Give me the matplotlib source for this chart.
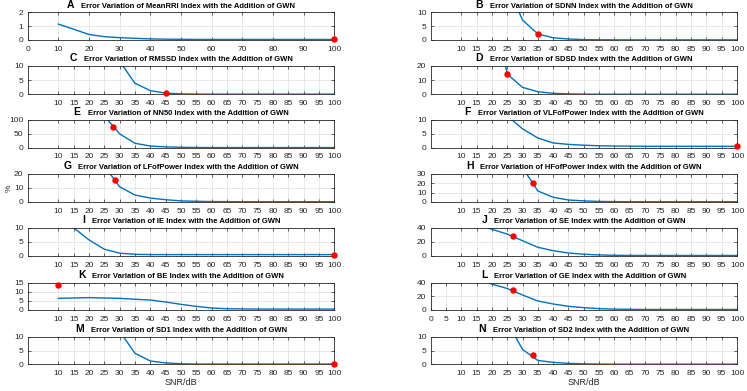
import matplotlib
matplotlib.use("Agg")
import matplotlib.pyplot as plt
from matplotlib.offsetbox import TextArea, HPacker, AnchoredOffsetbox

plt.rcParams['font.family'] = ['Liberation Sans', 'DejaVu Sans']

snr = [10, 15, 20, 25, 30, 35, 40, 45, 50, 55, 60, 65, 70, 75, 80, 85, 90, 95, 100]

letters = ["A", "B", "C", "D", "E", "F", "G", "H", "I", "J", "K", "L", "M", "N"]
names = ["MeanRRI", "SDNN", "RMSSD", "SDSD", "NN50", "VLFofPower", "LFofPower",
         "HFofPower", "IE", "SE", "BE", "GE", "SD1", "SD2"]

err_A = [1.15, 0.78, 0.40, 0.24, 0.17, 0.12, 0.08, 0.06, 0.05, 0.04, 0.04, 0.04, 0.04, 0.04, 0.04, 0.04, 0.04, 0.04, 0.04]
err_B = [60, 45, 32, 20, 7.2, 2.2, 0.8, 0.35, 0.15, 0.08, 0.05, 0.05, 0.05, 0.05, 0.05, 0.05, 0.05, 0.05, 0.05]
err_C = [80, 60, 40, 25, 11.7, 3.9, 1.3, 0.4, 0.15, 0.08, 0.05, 0.05, 0.05, 0.05, 0.05, 0.05, 0.05, 0.05, 0.05]
err_D = [160, 120, 70, 14.3, 4.9, 1.8, 0.7, 0.3, 0.12, 0.06, 0.05, 0.05, 0.05, 0.05, 0.05, 0.05, 0.05, 0.05, 0.05]
err_E = [250, 200, 160, 115, 50, 16, 6, 3, 1.5, 0.8, 0.5, 0.5, 0.5, 0.5, 0.5, 0.5, 0.5, 0.5, 0.5]
err_F = [30, 25, 18, 11.5, 6.8, 3.5, 1.7, 1.2, 0.9, 0.7, 0.6, 0.55, 0.5, 0.5, 0.5, 0.5, 0.5, 0.5, 0.5]
err_G = [60, 45, 35, 25.6, 10.8, 4.9, 2.8, 1.6, 0.8, 0.5, 0.3, 0.25, 0.2, 0.2, 0.2, 0.2, 0.2, 0.2, 0.2]
err_H = [100, 80, 60, 45, 36.4, 11.7, 5.0, 2.1, 1.2, 0.6, 0.4, 0.3, 0.3, 0.3, 0.3, 0.3, 0.3, 0.3, 0.3]
err_I = [14, 10, 5.7, 2.4, 1.0, 0.6, 0.5, 0.5, 0.5, 0.5, 0.5, 0.5, 0.5, 0.5, 0.5, 0.5, 0.5, 0.5, 0.5]
err_J = [50, 45, 37.7, 31, 21.6, 12.3, 7.5, 4.2, 2.5, 1.5, 1.0, 0.8, 0.7, 0.7, 0.7, 0.7, 0.7, 0.7, 0.7]
err_K = [6.4, 6.6, 6.8, 6.6, 6.4, 5.9, 5.5, 4.4, 3.1, 2.0, 1.1, 0.7, 0.6, 0.5, 0.5, 0.5, 0.5, 0.5, 0.5]
err_L = [50, 45, 38, 31.5, 22, 13.2, 8.8, 5.4, 3.4, 2.0, 1.3, 1.0, 0.8, 0.8, 0.8, 0.8, 0.8, 0.8, 0.8]
err_M = [80, 60, 40, 25, 12, 4.0, 1.2, 0.5, 0.2, 0.1, 0.1, 0.1, 0.1, 0.1, 0.1, 0.1, 0.1, 0.1, 0.1]
err_N = [40, 30, 22, 15.4, 5.4, 1.4, 0.7, 0.35, 0.15, 0.08, 0.05, 0.05, 0.05, 0.05, 0.05, 0.05, 0.05, 0.05, 0.05]
series = [err_A, err_B, err_C, err_D, err_E, err_F, err_G, err_H, err_I, err_J, err_K, err_L, err_M, err_N]

marker_x = [100, 35, 45, 25, 28, 100, 28.5, 33.3, 100, 26.9, 10, 26.9, 100, 33.3]
marker_y = [0.04, 2.2, 0.4, 14.3, 76, 0.5, 15.2, 20.5, 0.5, 28.3, 13.9, 29, 0.1, 3.2]

y_ticks = [[0, 1, 2], [0, 5, 10], [0, 5, 10], [0, 10, 20], [0, 50, 100], [0, 5, 10], [0, 10, 20],
           [0, 10, 20, 30], [0, 5, 10], [0, 20, 40], [0, 5, 10, 15], [0, 20, 40], [0, 5, 10], [0, 5, 10]]
x_ticks_A = list(range(0, 101, 10))
x_ticks_L = list(range(0, 101, 5))
x_ticks_default = list(range(10, 101, 5))

W, H = 747, 391
fig = plt.figure(figsize=(W / 100, H / 100), dpi=100)

rows = [(12.3, 40), (66, 94.3), (120, 147.7), (173.7, 202), (227.7, 256), (282.7, 310), (336.7, 364.3)]
cols = [(27.6, 334.3), (430.6, 737)]

blue = '#0072BD'
dark = '#262626'

for i in range(14):
    r, c = divmod(i, 2)
    top, bot = rows[r]
    x0, x1 = cols[c]
    ax = fig.add_axes([x0 / W, 1 - bot / H, (x1 - x0) / W, (bot - top) / H])
    ax.plot(snr, series[i], color=blue, lw=1.0)
    ax.plot([marker_x[i]], [marker_y[i]], 'o', color='#ff0000', ms=3.6, mec='#ff0000', clip_on=False, zorder=5)
    ax.set_xlim(0, 100)
    ax.set_ylim(y_ticks[i][0], y_ticks[i][-1])
    if i == 0:
        xt = x_ticks_A
    elif i == 11:
        xt = x_ticks_L
    else:
        xt = x_ticks_default
    ax.set_xticks(xt)
    ax.set_yticks(y_ticks[i])
    ax.grid(True, color='#dedede', lw=0.5)
    ax.set_axisbelow(True)
    ax.tick_params(direction='in', length=2.2, width=0.5, labelsize=6, colors=dark,
                   top=True, right=True)
    ax.tick_params(axis='x', pad=4)
    ax.tick_params(axis='y', pad=3)
    for s in ax.spines.values():
        s.set_color(dark)
        s.set_linewidth(0.6)
    la = TextArea(letters[i], textprops=dict(fontsize=7.5, fontweight='bold', color='black'))
    tx = TextArea("Error Variation of %s Index with the Addition of GWN" % names[i],
                  textprops=dict(fontsize=5.5, fontweight='bold', color='black'))
    pk = HPacker(children=[la, tx], align='baseline', pad=0, sep=5)
    ab = AnchoredOffsetbox(loc='lower center', child=pk, pad=0, borderpad=0.2, frameon=False,
                           bbox_to_anchor=(0.5, 1.0), bbox_transform=ax.transAxes)
    ax.add_artist(ab)
    if i == 6:
        ax.set_ylabel('%', fontsize=6, color=dark, labelpad=1)
    if i >= 12:
        ax.set_xlabel('SNR/dB', fontsize=6.5, color=dark, labelpad=1)

fig.savefig('out.png', dpi=100)
